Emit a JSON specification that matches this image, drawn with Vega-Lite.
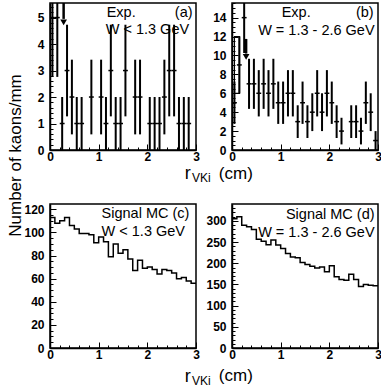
{
  "$schema": "https://vega.github.io/schema/vega-lite/v6.json",
  "padding": {"left": 5, "top": 1, "right": 2, "bottom": 2},
  "config": {
    "view": {"stroke": "black", "strokeWidth": 1.5},
    "axis": {"domainColor": "black", "domainWidth": 1.5, "tickColor": "black", "tickWidth": 1, "labelFont": "Liberation Sans", "labelFontWeight": "bold", "labelFontSize": 12, "labelColor": "black", "grid": false, "labelOverlap": false, "labelFlush": false, "titleFont": "Liberation Sans", "titleFontWeight": "normal", "titleColor": "black"},
    "text": {"font": "Liberation Sans", "fontSize": 14.5, "color": "black"}
  },
  "datasets": {
    "a": [
      {"x0": 0.0, "x1": 0.1, "xc": 0.05, "v": 5, "lo": 2.76, "hi": 7.24},
      {"x0": 0.1, "x1": 0.2, "xc": 0.15, "v": 5, "lo": 2.76, "hi": 7.24},
      {"x0": 0.2, "x1": 0.3, "xc": 0.25, "v": 1, "lo": 0, "hi": 2},
      {"x0": 0.3, "x1": 0.4, "xc": 0.35, "v": 3, "lo": 1.27, "hi": 4.73},
      {"x0": 0.4, "x1": 0.5, "xc": 0.45, "v": 2, "lo": 0.59, "hi": 3.41},
      {"x0": 0.5, "x1": 0.6, "xc": 0.55, "v": 1, "lo": 0, "hi": 2},
      {"x0": 0.6, "x1": 0.7, "xc": 0.65, "v": 1, "lo": 0, "hi": 2},
      {"x0": 0.8, "x1": 0.9, "xc": 0.85, "v": 2, "lo": 0.59, "hi": 3.41},
      {"x0": 1.0, "x1": 1.1, "xc": 1.05, "v": 2, "lo": 0.59, "hi": 3.41},
      {"x0": 1.1, "x1": 1.2, "xc": 1.15, "v": 1, "lo": 0, "hi": 2},
      {"x0": 1.2, "x1": 1.3, "xc": 1.25, "v": 3, "lo": 1.27, "hi": 4.73},
      {"x0": 1.3, "x1": 1.4, "xc": 1.35, "v": 1, "lo": 0, "hi": 2},
      {"x0": 1.4, "x1": 1.5, "xc": 1.45, "v": 1, "lo": 0, "hi": 2},
      {"x0": 1.5, "x1": 1.6, "xc": 1.55, "v": 3, "lo": 1.27, "hi": 4.73},
      {"x0": 1.7, "x1": 1.8, "xc": 1.75, "v": 2, "lo": 0.59, "hi": 3.41},
      {"x0": 1.8, "x1": 1.9, "xc": 1.85, "v": 2, "lo": 0.59, "hi": 3.41},
      {"x0": 2.0, "x1": 2.1, "xc": 2.05, "v": 1, "lo": 0, "hi": 2},
      {"x0": 2.1, "x1": 2.2, "xc": 2.15, "v": 1, "lo": 0, "hi": 2},
      {"x0": 2.2, "x1": 2.3, "xc": 2.25, "v": 1, "lo": 0, "hi": 2},
      {"x0": 2.3, "x1": 2.4, "xc": 2.35, "v": 2, "lo": 0.59, "hi": 3.41},
      {"x0": 2.4, "x1": 2.5, "xc": 2.45, "v": 3, "lo": 1.27, "hi": 4.73},
      {"x0": 2.5, "x1": 2.6, "xc": 2.55, "v": 3, "lo": 1.27, "hi": 4.73},
      {"x0": 2.6, "x1": 2.7, "xc": 2.65, "v": 1, "lo": 0, "hi": 2},
      {"x0": 2.7, "x1": 2.8, "xc": 2.75, "v": 1, "lo": 0, "hi": 2},
      {"x0": 2.8, "x1": 2.9, "xc": 2.85, "v": 1, "lo": 0, "hi": 2}
    ],
    "b": [
      {"x0": 0.0, "x1": 0.1, "xc": 0.05, "v": 5, "lo": 2.76, "hi": 7.24},
      {"x0": 0.1, "x1": 0.2, "xc": 0.15, "v": 9, "lo": 6, "hi": 12},
      {"x0": 0.2, "x1": 0.3, "xc": 0.25, "v": 14, "lo": 10.26, "hi": 17.74},
      {"x0": 0.3, "x1": 0.4, "xc": 0.35, "v": 7, "lo": 4.35, "hi": 9.65},
      {"x0": 0.4, "x1": 0.5, "xc": 0.45, "v": 7, "lo": 4.35, "hi": 9.65},
      {"x0": 0.5, "x1": 0.6, "xc": 0.55, "v": 6, "lo": 3.55, "hi": 8.45},
      {"x0": 0.6, "x1": 0.7, "xc": 0.65, "v": 7, "lo": 4.35, "hi": 9.65},
      {"x0": 0.7, "x1": 0.8, "xc": 0.75, "v": 6, "lo": 3.55, "hi": 8.45},
      {"x0": 0.8, "x1": 0.9, "xc": 0.85, "v": 7, "lo": 4.35, "hi": 9.65},
      {"x0": 0.9, "x1": 1.0, "xc": 0.95, "v": 5, "lo": 2.76, "hi": 7.24},
      {"x0": 1.0, "x1": 1.1, "xc": 1.05, "v": 5, "lo": 2.76, "hi": 7.24},
      {"x0": 1.1, "x1": 1.2, "xc": 1.15, "v": 6, "lo": 3.55, "hi": 8.45},
      {"x0": 1.2, "x1": 1.3, "xc": 1.25, "v": 6, "lo": 3.55, "hi": 8.45},
      {"x0": 1.3, "x1": 1.4, "xc": 1.35, "v": 3, "lo": 1.27, "hi": 4.73},
      {"x0": 1.4, "x1": 1.5, "xc": 1.45, "v": 5, "lo": 2.76, "hi": 7.24},
      {"x0": 1.5, "x1": 1.6, "xc": 1.55, "v": 3, "lo": 1.27, "hi": 4.73},
      {"x0": 1.6, "x1": 1.7, "xc": 1.65, "v": 4, "lo": 2, "hi": 6},
      {"x0": 1.7, "x1": 1.8, "xc": 1.75, "v": 6, "lo": 3.55, "hi": 8.45},
      {"x0": 1.8, "x1": 1.9, "xc": 1.85, "v": 4, "lo": 2, "hi": 6},
      {"x0": 1.9, "x1": 2.0, "xc": 1.95, "v": 6, "lo": 3.55, "hi": 8.45},
      {"x0": 2.0, "x1": 2.1, "xc": 2.05, "v": 5, "lo": 2.76, "hi": 7.24},
      {"x0": 2.1, "x1": 2.2, "xc": 2.15, "v": 3, "lo": 1.27, "hi": 4.73},
      {"x0": 2.2, "x1": 2.3, "xc": 2.25, "v": 2, "lo": 0.59, "hi": 3.41},
      {"x0": 2.4, "x1": 2.5, "xc": 2.45, "v": 3, "lo": 1.27, "hi": 4.73},
      {"x0": 2.5, "x1": 2.6, "xc": 2.55, "v": 3, "lo": 1.27, "hi": 4.73},
      {"x0": 2.6, "x1": 2.7, "xc": 2.65, "v": 2, "lo": 0.59, "hi": 3.41},
      {"x0": 2.7, "x1": 2.8, "xc": 2.75, "v": 5, "lo": 2.76, "hi": 7.24},
      {"x0": 2.8, "x1": 2.9, "xc": 2.85, "v": 4, "lo": 2, "hi": 6},
      {"x0": 2.9, "x1": 3.0, "xc": 2.95, "v": 1, "lo": 0, "hi": 2}
    ],
    "c": [
      {"x0": 0.0, "v": 113}, {"x0": 0.1, "v": 108}, {"x0": 0.2, "v": 110}, {"x0": 0.3, "v": 113}, {"x0": 0.4, "v": 106},
      {"x0": 0.5, "v": 103}, {"x0": 0.6, "v": 99}, {"x0": 0.7, "v": 99}, {"x0": 0.8, "v": 98}, {"x0": 0.9, "v": 91},
      {"x0": 1.0, "v": 96}, {"x0": 1.1, "v": 92}, {"x0": 1.2, "v": 79}, {"x0": 1.3, "v": 90}, {"x0": 1.4, "v": 82},
      {"x0": 1.5, "v": 85}, {"x0": 1.6, "v": 77}, {"x0": 1.7, "v": 67}, {"x0": 1.8, "v": 76}, {"x0": 1.9, "v": 69},
      {"x0": 2.0, "v": 70}, {"x0": 2.1, "v": 68}, {"x0": 2.2, "v": 64}, {"x0": 2.3, "v": 68}, {"x0": 2.4, "v": 67},
      {"x0": 2.5, "v": 65}, {"x0": 2.6, "v": 60}, {"x0": 2.7, "v": 61}, {"x0": 2.8, "v": 58}, {"x0": 2.9, "v": 56},
      {"x0": 3.0, "v": 56}
    ],
    "d": [
      {"x0": 0.0, "v": 305}, {"x0": 0.1, "v": 310}, {"x0": 0.2, "v": 290}, {"x0": 0.3, "v": 286}, {"x0": 0.4, "v": 280},
      {"x0": 0.5, "v": 257}, {"x0": 0.6, "v": 252}, {"x0": 0.7, "v": 244}, {"x0": 0.8, "v": 255}, {"x0": 0.9, "v": 243},
      {"x0": 1.0, "v": 235}, {"x0": 1.1, "v": 223}, {"x0": 1.2, "v": 215}, {"x0": 1.3, "v": 213}, {"x0": 1.4, "v": 202},
      {"x0": 1.5, "v": 197}, {"x0": 1.6, "v": 193}, {"x0": 1.7, "v": 189}, {"x0": 1.8, "v": 191}, {"x0": 1.9, "v": 180},
      {"x0": 2.0, "v": 194}, {"x0": 2.1, "v": 168}, {"x0": 2.2, "v": 162}, {"x0": 2.3, "v": 160}, {"x0": 2.4, "v": 174},
      {"x0": 2.5, "v": 162}, {"x0": 2.6, "v": 145}, {"x0": 2.7, "v": 150}, {"x0": 2.8, "v": 148}, {"x0": 2.9, "v": 147},
      {"x0": 3.0, "v": 147}
    ]
  },
  "columns": 2,
  "spacing": {"row": 54, "column": 36},
  "bounds": "flush",
  "concat": [
    {
      "width": 146, "height": 147,
      "resolve": {"axis": {"x": "independent", "y": "independent"}},
      "layer": [
        {
          "data": {"name": "a"},
          "mark": {"type": "rule", "color": "black", "strokeWidth": 2, "clip": true},
          "encoding": {
            "x": {"field": "xc", "type": "quantitative", "scale": {"domain": [0, 3], "nice": false},
              "axis": {"orient": "bottom", "title": null, "values": [0, 1, 2, 3], "format": "d", "tickSize": -6, "labelPadding": 7}},
            "y": {"field": "lo", "type": "quantitative", "scale": {"domain": [0, 5.55], "nice": false},
              "axis": {"orient": "left", "title": "Number of kaons/mm", "titleFontSize": 17, "titleX": -35, "titleY": 152, "titleAlign": "center", "titleBaseline": "middle", "titleAngle": -90, "values": [0, 1, 2, 3, 4, 5], "format": "d", "tickSize": -6, "labelPadding": 12}},
            "y2": {"field": "hi"}
          }
        },
        {
          "data": {"name": "a"},
          "mark": {"type": "rule", "color": "black", "strokeWidth": 1.5},
          "encoding": {
            "x": {"field": "x0", "type": "quantitative", "scale": {"domain": [0, 3], "nice": false},
              "axis": {"orient": "bottom", "title": null, "values": [0.2, 0.4, 0.6, 0.8, 1.2, 1.4, 1.6, 1.8, 2.2, 2.4, 2.6, 2.8], "labels": false, "domain": false, "tickSize": -3}},
            "x2": {"field": "x1"},
            "y": {"field": "v", "type": "quantitative", "scale": {"domain": [0, 5.55], "nice": false},
              "axis": {"orient": "left", "title": null, "values": [0.2, 0.4, 0.6, 0.8, 1.2, 1.4, 1.6, 1.8, 2.2, 2.4, 2.6, 2.8, 3.2, 3.4, 3.6, 3.8, 4.2, 4.4, 4.6, 4.8, 5.2, 5.4], "labels": false, "domain": false, "tickSize": -3}}
          }
        },
        {
          "data": {"values": [{}]},
          "mark": {"type": "rule", "color": "black", "strokeWidth": 2.5},
          "encoding": {"x": {"datum": 0.28, "type": "quantitative", "axis": null}, "y": {"datum": 5.55, "type": "quantitative", "axis": null}, "y2": {"datum": 4.95}}
        },
        {
          "data": {"values": [{}]},
          "mark": {"type": "point", "shape": "triangle-down", "filled": true, "color": "black", "size": 45, "opacity": 1},
          "encoding": {"x": {"datum": 0.28, "type": "quantitative", "axis": null}, "y": {"datum": 4.82, "type": "quantitative", "axis": null}}
        },
        {"data": {"values": [{}]}, "mark": {"type": "text", "align": "left", "baseline": "alphabetic"}, "encoding": {"x": {"datum": 1.165, "type": "quantitative", "axis": null}, "y": {"datum": 5.02, "type": "quantitative", "axis": null}, "text": {"value": "Exp."}}},
        {"data": {"values": [{}]}, "mark": {"type": "text", "align": "right", "baseline": "alphabetic"}, "encoding": {"x": {"datum": 2.93, "type": "quantitative", "axis": null}, "y": {"datum": 5.02, "type": "quantitative", "axis": null}, "text": {"value": "(a)"}}},
        {"data": {"values": [{}]}, "mark": {"type": "text", "align": "left", "baseline": "alphabetic"}, "encoding": {"x": {"datum": 1.145, "type": "quantitative", "axis": null}, "y": {"datum": 4.38, "type": "quantitative", "axis": null}, "text": {"value": "W < 1.3 GeV"}}},
        {"data": {"values": [{}]}, "mark": {"type": "text", "align": "left", "baseline": "alphabetic", "fontSize": 18}, "encoding": {"x": {"datum": 2.77, "type": "quantitative", "axis": null}, "y": {"datum": -1.1, "type": "quantitative", "axis": null}, "text": {"value": "r"}}},
        {"data": {"values": [{}]}, "mark": {"type": "text", "align": "left", "baseline": "alphabetic", "fontSize": 12}, "encoding": {"x": {"datum": 2.92, "type": "quantitative", "axis": null}, "y": {"datum": -1.21, "type": "quantitative", "axis": null}, "text": {"value": "VKi"}}},
        {"data": {"values": [{}]}, "mark": {"type": "text", "align": "left", "baseline": "alphabetic", "fontSize": 17}, "encoding": {"x": {"datum": 3.47, "type": "quantitative", "axis": null}, "y": {"datum": -1.08, "type": "quantitative", "axis": null}, "text": {"value": "(cm)"}}}
      ]
    },
    {
      "width": 146, "height": 147,
      "resolve": {"axis": {"x": "independent", "y": "independent"}},
      "layer": [
        {
          "data": {"name": "b"},
          "mark": {"type": "rule", "color": "black", "strokeWidth": 2, "clip": true},
          "encoding": {
            "x": {"field": "xc", "type": "quantitative", "scale": {"domain": [0, 3], "nice": false},
              "axis": {"orient": "bottom", "title": null, "values": [0, 1, 2, 3], "format": "d", "tickSize": -6, "labelPadding": 7}},
            "y": {"field": "lo", "type": "quantitative", "scale": {"domain": [0, 15.55], "nice": false},
              "axis": {"orient": "left", "title": null, "values": [0, 2, 4, 6, 8, 10, 12, 14], "format": "d", "tickSize": -6, "labelPadding": 12}},
            "y2": {"field": "hi"}
          }
        },
        {
          "data": {"name": "b"},
          "mark": {"type": "rule", "color": "black", "strokeWidth": 1.5},
          "encoding": {
            "x": {"field": "x0", "type": "quantitative", "scale": {"domain": [0, 3], "nice": false},
              "axis": {"orient": "bottom", "title": null, "values": [0.2, 0.4, 0.6, 0.8, 1.2, 1.4, 1.6, 1.8, 2.2, 2.4, 2.6, 2.8], "labels": false, "domain": false, "tickSize": -3}},
            "x2": {"field": "x1"},
            "y": {"field": "v", "type": "quantitative", "scale": {"domain": [0, 15.55], "nice": false},
              "axis": {"orient": "left", "title": null, "values": [0.5, 1, 1.5, 2.5, 3, 3.5, 4.5, 5, 5.5, 6.5, 7, 7.5, 8.5, 9, 9.5, 10.5, 11, 11.5, 12.5, 13, 13.5, 14.5, 15, 15.5], "labels": false, "domain": false, "tickSize": -3}}
          }
        },
        {
          "data": {"values": [{}]},
          "mark": {"type": "rect", "fillOpacity": 0, "stroke": "black", "strokeWidth": 1.2},
          "encoding": {"x": {"datum": 0.05, "type": "quantitative", "axis": null}, "x2": {"datum": 0.155}, "y": {"datum": 6, "type": "quantitative", "axis": null}, "y2": {"datum": 12}}
        },
        {
          "data": {"values": [{}]},
          "mark": {"type": "rule", "color": "black", "strokeWidth": 2.5},
          "encoding": {"x": {"datum": 0.29, "type": "quantitative", "axis": null}, "y": {"datum": 11.75, "type": "quantitative", "axis": null}, "y2": {"datum": 10.2}}
        },
        {
          "data": {"values": [{}]},
          "mark": {"type": "point", "shape": "triangle-down", "filled": true, "color": "black", "size": 45, "opacity": 1},
          "encoding": {"x": {"datum": 0.29, "type": "quantitative", "axis": null}, "y": {"datum": 9.85, "type": "quantitative", "axis": null}}
        },
        {"data": {"values": [{}]}, "mark": {"type": "text", "align": "left", "baseline": "alphabetic"}, "encoding": {"x": {"datum": 1.02, "type": "quantitative", "axis": null}, "y": {"datum": 14.07, "type": "quantitative", "axis": null}, "text": {"value": "Exp."}}},
        {"data": {"values": [{}]}, "mark": {"type": "text", "align": "right", "baseline": "alphabetic"}, "encoding": {"x": {"datum": 2.91, "type": "quantitative", "axis": null}, "y": {"datum": 14.07, "type": "quantitative", "axis": null}, "text": {"value": "(b)"}}},
        {"data": {"values": [{}]}, "mark": {"type": "text", "align": "right", "baseline": "alphabetic"}, "encoding": {"x": {"datum": 2.93, "type": "quantitative", "axis": null}, "y": {"datum": 12.17, "type": "quantitative", "axis": null}, "text": {"value": "W = 1.3 - 2.6 GeV"}}}
      ]
    },
    {
      "width": 146, "height": 144,
      "resolve": {"axis": {"x": "independent", "y": "independent"}},
      "layer": [
        {
          "data": {"name": "c"},
          "mark": {"type": "line", "interpolate": "step-after", "color": "black", "strokeWidth": 1.5},
          "encoding": {
            "x": {"field": "x0", "type": "quantitative", "scale": {"domain": [0, 3], "nice": false},
              "axis": {"orient": "bottom", "title": null, "values": [0, 1, 2, 3], "format": "d", "tickSize": -6, "labelPadding": 7}},
            "y": {"field": "v", "type": "quantitative", "scale": {"domain": [0, 124.6], "nice": false},
              "axis": {"orient": "left", "title": null, "values": [0, 20, 40, 60, 80, 100, 120], "format": "d", "tickSize": -6, "labelPadding": 12}}
          }
        },
        {"data": {"values": [{}]}, "mark": {"type": "text", "align": "left", "baseline": "alphabetic"}, "encoding": {
          "x": {"datum": 1.06, "type": "quantitative", "axis": {"orient": "bottom", "title": null, "values": [0.2, 0.4, 0.6, 0.8, 1.2, 1.4, 1.6, 1.8, 2.2, 2.4, 2.6, 2.8], "labels": false, "domain": false, "tickSize": -3}},
          "y": {"datum": 112.5, "type": "quantitative", "axis": {"orient": "left", "title": null, "values": [5, 10, 15, 25, 30, 35, 45, 50, 55, 65, 70, 75, 85, 90, 95, 105, 110, 115], "labels": false, "domain": false, "tickSize": -3}},
          "text": {"value": "Signal MC (c)"}}},
        {"data": {"values": [{}]}, "mark": {"type": "text", "align": "left", "baseline": "alphabetic"}, "encoding": {"x": {"datum": 1.06, "type": "quantitative", "axis": null}, "y": {"datum": 96.9, "type": "quantitative", "axis": null}, "text": {"value": "W < 1.3 GeV"}}},
        {"data": {"values": [{}]}, "mark": {"type": "text", "align": "left", "baseline": "alphabetic", "fontSize": 18}, "encoding": {"x": {"datum": 2.77, "type": "quantitative", "axis": null}, "y": {"datum": -29.4, "type": "quantitative", "axis": null}, "text": {"value": "r"}}},
        {"data": {"values": [{}]}, "mark": {"type": "text", "align": "left", "baseline": "alphabetic", "fontSize": 12}, "encoding": {"x": {"datum": 2.92, "type": "quantitative", "axis": null}, "y": {"datum": -32, "type": "quantitative", "axis": null}, "text": {"value": "VKi"}}},
        {"data": {"values": [{}]}, "mark": {"type": "text", "align": "left", "baseline": "alphabetic", "fontSize": 17}, "encoding": {"x": {"datum": 3.47, "type": "quantitative", "axis": null}, "y": {"datum": -28.6, "type": "quantitative", "axis": null}, "text": {"value": "(cm)"}}}
      ]
    },
    {
      "width": 146, "height": 144,
      "resolve": {"axis": {"x": "independent", "y": "independent"}},
      "layer": [
        {
          "data": {"name": "d"},
          "mark": {"type": "line", "interpolate": "step-after", "color": "black", "strokeWidth": 1.5},
          "encoding": {
            "x": {"field": "x0", "type": "quantitative", "scale": {"domain": [0, 3], "nice": false},
              "axis": {"orient": "bottom", "title": null, "values": [0, 1, 2, 3], "format": "d", "tickSize": -6, "labelPadding": 7}},
            "y": {"field": "v", "type": "quantitative", "scale": {"domain": [0, 340], "nice": false},
              "axis": {"orient": "left", "title": null, "values": [0, 50, 100, 150, 200, 250, 300], "format": "d", "tickSize": -6, "labelPadding": 12}}
          }
        },
        {"data": {"values": [{}]}, "mark": {"type": "text", "align": "right", "baseline": "alphabetic"}, "encoding": {
          "x": {"datum": 2.93, "type": "quantitative", "axis": {"orient": "bottom", "title": null, "values": [0.2, 0.4, 0.6, 0.8, 1.2, 1.4, 1.6, 1.8, 2.2, 2.4, 2.6, 2.8], "labels": false, "domain": false, "tickSize": -3}},
          "y": {"datum": 304.6, "type": "quantitative", "axis": {"orient": "left", "title": null, "values": [10, 20, 30, 40, 60, 70, 80, 90, 110, 120, 130, 140, 160, 170, 180, 190, 210, 220, 230, 240, 260, 270, 280, 290, 310, 320, 330], "labels": false, "domain": false, "tickSize": -3}},
          "text": {"value": "Signal MC (d)"}}},
        {"data": {"values": [{}]}, "mark": {"type": "text", "align": "right", "baseline": "alphabetic"}, "encoding": {"x": {"datum": 2.93, "type": "quantitative", "axis": null}, "y": {"datum": 262, "type": "quantitative", "axis": null}, "text": {"value": "W = 1.3 - 2.6 GeV"}}}
      ]
    }
  ]
}
